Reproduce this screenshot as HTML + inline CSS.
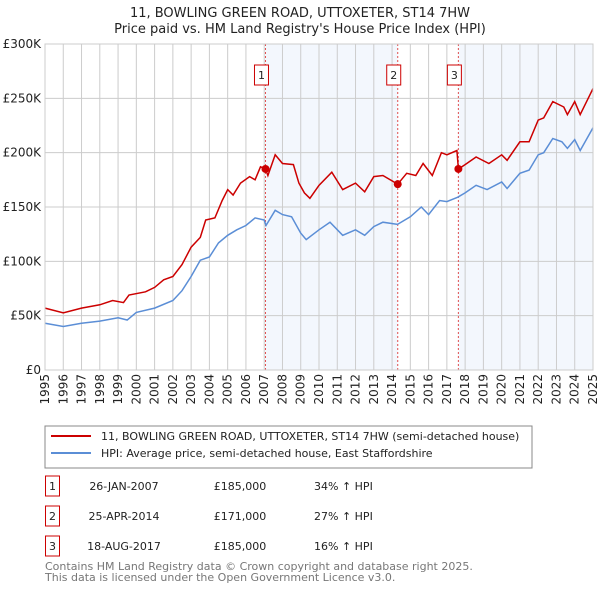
<!DOCTYPE html>
<html><head><meta charset="utf-8">
<style>
body{margin:0;background:#fff;font-family:"Liberation Sans","DejaVu Sans",sans-serif;}
svg text{font-family:"DejaVu Sans","Liberation Sans",sans-serif;}
</style></head>
<body>
<svg id="c" width="600" height="590" viewBox="0 0 600 590" xmlns="http://www.w3.org/2000/svg">
<text x="300" y="17" text-anchor="middle" font-size="13" fill="#222">11, BOWLING GREEN ROAD, UTTOXETER, ST14 7HW</text>
<text x="300" y="33" text-anchor="middle" font-size="13" fill="#222">Price paid vs. HM Land Registry's House Price Index (HPI)</text>
<g id="plot"></g>
<rect x="45" y="426" width="487" height="42" fill="#fff" stroke="#888"/>
<line x1="51" y1="436" x2="91" y2="436" stroke="#cc0000" stroke-width="2"/>
<text x="101" y="440" font-size="11" fill="#222">11, BOWLING GREEN ROAD, UTTOXETER, ST14 7HW (semi-detached house)</text>
<line x1="51" y1="453" x2="91" y2="453" stroke="#5b8ed6" stroke-width="2"/>
<text x="101" y="457" font-size="11" fill="#222">HPI: Average price, semi-detached house, East Staffordshire</text>
<g id="table" font-size="11" fill="#222"></g>
<text x="45" y="570" font-size="11" fill="#777">Contains HM Land Registry data © Crown copyright and database right 2025.</text>
<text x="45" y="581" font-size="11" fill="#777">This data is licensed under the Open Government Licence v3.0.</text>
</svg>
<script>
const hpiYears=[1995,1996,1997,1998,1999,1999.5,2000,2001,2002,2002.5,2003,2003.5,2004,2004.5,2005,2005.5,2006,2006.5,2007,2007.1,2007.6,2008,2008.5,2009,2009.3,2010,2010.6,2011.3,2012,2012.5,2013,2013.5,2014.3,2015,2015.6,2016,2016.6,2017,2017.6,2018,2018.6,2019.2,2020,2020.3,2021,2021.5,2022,2022.3,2022.8,2023.3,2023.6,2024,2024.3,2025];
const hpiValues=[43,40,43,45,48,46,53,57,64,73,86,101,104,117,124,129,133,140,138,133,147,143,141,126,120,129,136,124,129,124,132,136,134,141,150,143,156,155,159,163,170,166,173,167,181,184,198,200,213,210,204,212,202,223];
const priceYears=[1995,1996,1997,1998,1998.7,1999.3,1999.6,2000.5,2001,2001.5,2002,2002.5,2003,2003.5,2003.8,2004.3,2004.7,2005,2005.3,2005.7,2006.2,2006.5,2006.8,2007.07,2007.2,2007.6,2008,2008.6,2008.9,2009.2,2009.5,2010,2010.7,2011.3,2012,2012.5,2013,2013.5,2014.31,2014.8,2015.3,2015.7,2016.2,2016.7,2017,2017.55,2017.63,2018,2018.6,2019.3,2020,2020.3,2021,2021.5,2022,2022.3,2022.8,2023.4,2023.6,2024,2024.3,2025];
const priceValues=[57,52.5,57,60,64,62,69,72,76,83,86,97,113,122,138,140,156,166,161,172,178,175,187,185,179,198,190,189,172,163,158,170,182,166,172,164,178,179,171,181,179,190,179,200,198,202,185,189,196,190,198,193,210,210,230,232,247,242,235,247,235,259];
const saleLabels=["1","2","3"];
const saleYears=[2007.07,2014.31,2017.63];
const saleValues=[185,171,185];
const saleDates=["26-JAN-2007","25-APR-2014","18-AUG-2017"];
const salePrices=["£185,000","£171,000","£185,000"];
const saleDiffs=["34% ↑ HPI","27% ↑ HPI","16% ↑ HPI"];
const yTicks=[0,50,100,150,200,250,300];
const yTickLabels=["£0","£50K","£100K","£150K","£200K","£250K","£300K"];
const xTicks=[1995,1996,1997,1998,1999,2000,2001,2002,2003,2004,2005,2006,2007,2008,2009,2010,2011,2012,2013,2014,2015,2016,2017,2018,2019,2020,2021,2022,2023,2024,2025];

const NS="http://www.w3.org/2000/svg";
const L=45,R=593,T=44,B=370;
const x=v=>L+(v-1995)/30*(R-L);
const y=v=>B-v/300*(B-T);
const g=document.getElementById('plot');
function mk(tag,attrs,parent){const e=document.createElementNS(NS,tag);for(const k in attrs)e.setAttribute(k,attrs[k]);(parent||g).appendChild(e);return e;}
let bg=mk('rect',{x:L,y:T,width:R-L,height:B-T,fill:'#fff'});


// shaded spans
const spans=[[saleYears[0],saleYears[1]],[saleYears[2],2025]];
spans.forEach((s,i)=>{const r=mk('rect',{x:x(s[0]),y:T,width:x(s[1])-x(s[0]),height:B-T,fill:'#eef3fc',opacity:0.7});

});
xTicks.forEach(t=>{const l=mk('line',{x1:x(t),x2:x(t),y1:T,y2:B,stroke:'#ccc','stroke-width':1});


const tx=mk('text',{x:0,y:0,transform:`translate(${x(t)+4},374) rotate(-90)`,'text-anchor':'end','font-size':12,fill:'#222'});
tx.textContent=t;

});
yTicks.forEach((t,i)=>{const l=mk('line',{x1:L,x2:R,y1:y(t),y2:y(t),stroke:'#ccc','stroke-width':1});


const tx=mk('text',{x:41,y:y(t)+4,'text-anchor':'end','font-size':12,fill:'#222'});
tx.textContent=yTickLabels[i];

});
saleYears.forEach((s,i)=>{const l=mk('line',{x1:x(s),x2:x(s),y1:T,y2:B,stroke:'#e05050','stroke-width':1,'stroke-dasharray':'2,2'});


const r=mk('rect',{x:x(s)-11,y:65,width:14,height:20,fill:'#fff',stroke:'#cc0000'});


const tx=mk('text',{x:x(s)-4,y:79,'text-anchor':'middle','font-size':11,fill:'#222'});
tx.textContent=saleLabels[i];

});
const pts=(xs,vs)=>xs.map((a,i)=>x(a).toFixed(1)+','+y(vs[i]).toFixed(1)).join(' ');
const hp=mk('polyline',{points:pts(hpiYears,hpiValues),fill:'none',stroke:'#5b8ed6','stroke-width':1.5});


const pp=mk('polyline',{points:pts(priceYears,priceValues),fill:'none',stroke:'#cc0000','stroke-width':1.5});


saleYears.forEach((s,i)=>{const c=mk('circle',{cx:x(s),cy:y(saleValues[i]),r:4,fill:'#cc0000'});

});
const ax=mk('rect',{x:L,y:T,width:R-L,height:B-T,fill:'none',stroke:'#ccc'});


const tb=document.getElementById('table');
saleYears.forEach((s,i)=>{const yy=476+i*30;
const r=mk('rect',{x:45.5,y:yy,width:14,height:20,fill:'#fff',stroke:'#cc0000'},tb);


const cols=[[52.5,saleLabels[i],'middle'],[124,saleDates[i],'middle'],[240,salePrices[i],'middle'],[314,saleDiffs[i],'start']];
cols.forEach(cc=>{const t=mk('text',{x:cc[0],y:yy+14,'text-anchor':cc[2]},tb);t.textContent=cc[1];

});});
</script>
</body></html>
